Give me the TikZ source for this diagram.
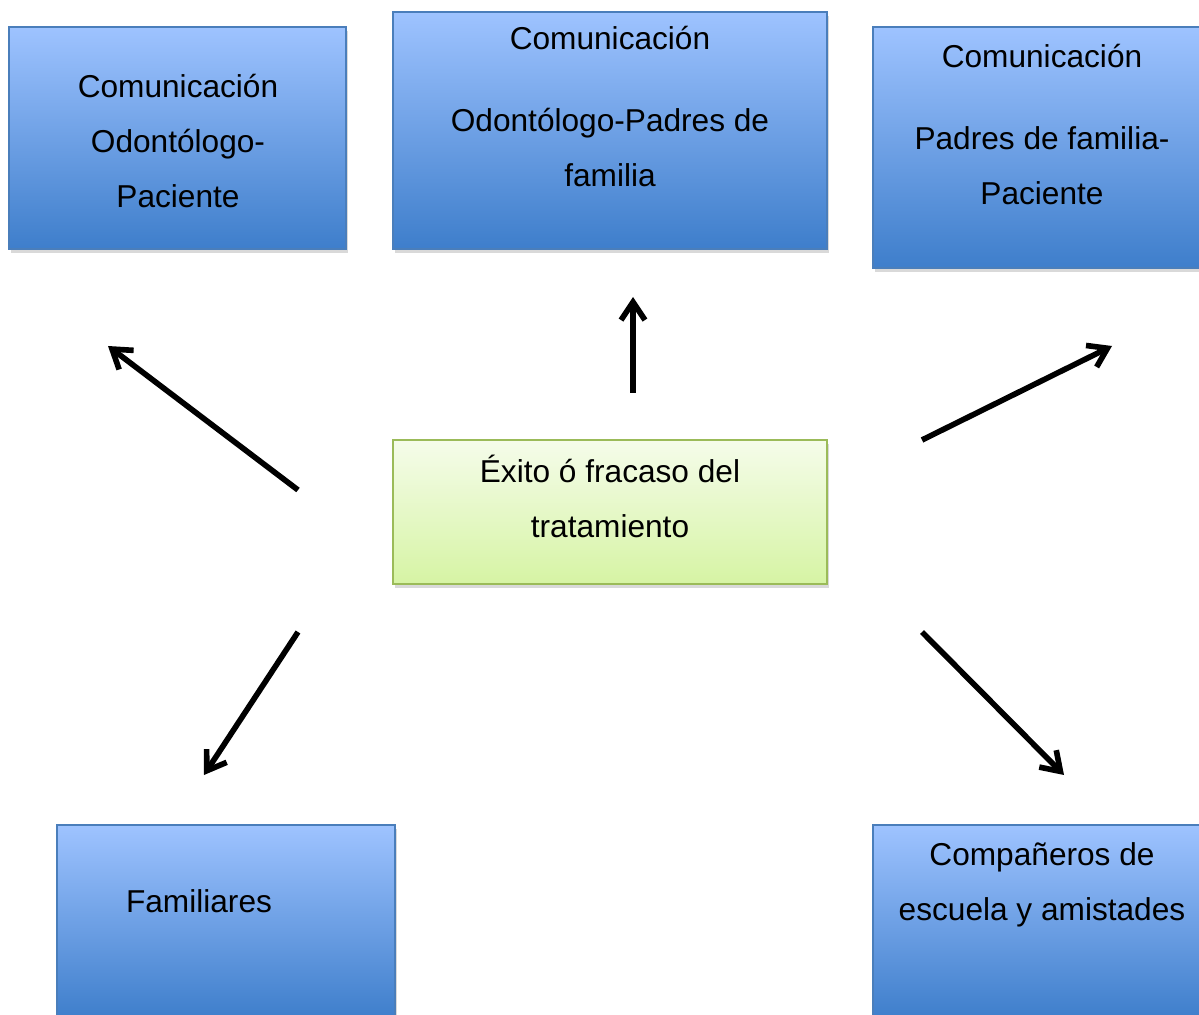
\documentclass[tikz,border=0pt]{standalone}
\usepackage{fontspec}
\setmainfont{Liberation Sans}
\usetikzlibrary{arrows.meta,shadows}

\definecolor{azulclaro}{RGB}{158,195,255}
\definecolor{azuloscuro}{RGB}{62,126,203}
\definecolor{azulborde}{RGB}{74,126,187}
\definecolor{verdeclaro}{RGB}{245,252,234}
\definecolor{verdeoscuro}{RGB}{214,244,164}
\definecolor{verdeborde}{RGB}{155,187,89}

\tikzset{
  caja/.style={rectangle, draw=azulborde, line width=0.6pt,
    top color=azulclaro, bottom color=azuloscuro,
    drop shadow={shadow xshift=0.04cm, shadow yshift=-0.08cm, opacity=0.3}},
  cajaverde/.style={caja, draw=verdeborde,
    top color=verdeclaro, bottom color=verdeoscuro},
  texto/.style={align=center, inner sep=0pt,
    font=\fontsize{18pt}{31.3pt}\selectfont},
  flecha/.style={line width=3.2pt, -{Straight Barb[length=0.36cm,width=0.48cm]}}
}

\begin{document}
\begin{tikzpicture}
  \useasboundingbox (0,0) rectangle (23.98,20.28);
  \clip (0,0) rectangle (23.98,20.28);

  % cajas de arriba
  \node[caja, minimum width=6.74cm, minimum height=4.44cm] (comOP) at (3.55,17.52) {};
  \node[texto] (tComOP) at (3.56,17.46) {Comunicación\\Odontólogo-\\Paciente};
  \node[caja, minimum width=8.68cm, minimum height=4.74cm] (comOF) at (12.2,17.67) {};
  \node[texto] (tComOF) at (12.2,18.15) {Comunicación\\[0.54cm]Odontólogo-Padres de\\familia};
  \node[caja, minimum width=6.76cm, minimum height=4.82cm] (comPP) at (20.84,17.33) {};
  \node[texto] (tComPP) at (20.84,17.78) {Comunicación\\[0.54cm]Padres de familia-\\Paciente};

  % centro
  \node[cajaverde, minimum width=8.68cm, minimum height=2.88cm] (exito) at (12.2,10.04) {};
  \node[texto] (tExito) at (12.2,10.35) {Éxito ó fracaso del\\tratamiento};

  % cajas de abajo
  \node[caja, minimum width=6.76cm, minimum height=3.88cm] (familiares) at (4.52,1.84) {};
  \node[texto] (tFamiliares) at (3.98,2.26) {Familiares};
  \node[caja, minimum width=6.76cm, minimum height=3.88cm] (companeros) at (20.84,1.84) {};
  \node[texto] (tCompaneros) at (20.84,2.59) {Compañeros de\\escuela y amistades};

  % flechas
  \coordinate (f1a) at (5.96,10.48);  \coordinate (f1b) at (2.16,13.36);
  \coordinate (f2a) at (12.66,12.42); \coordinate (f2b) at (12.66,14.34);
  \coordinate (f3a) at (18.44,11.48); \coordinate (f3b) at (22.24,13.36);
  \coordinate (f4a) at (5.96,7.64);   \coordinate (f4b) at (4.08,4.78);
  \coordinate (f5a) at (18.44,7.64);  \coordinate (f5b) at (21.28,4.78);
  \draw[flecha] (f1a) -- (f1b);
  \draw[flecha] (f2a) -- (f2b);
  \draw[flecha] (f3a) -- (f3b);
  \draw[flecha] (f4a) -- (f4b);
  \draw[flecha] (f5a) -- (f5b);
\end{tikzpicture}
\end{document}
